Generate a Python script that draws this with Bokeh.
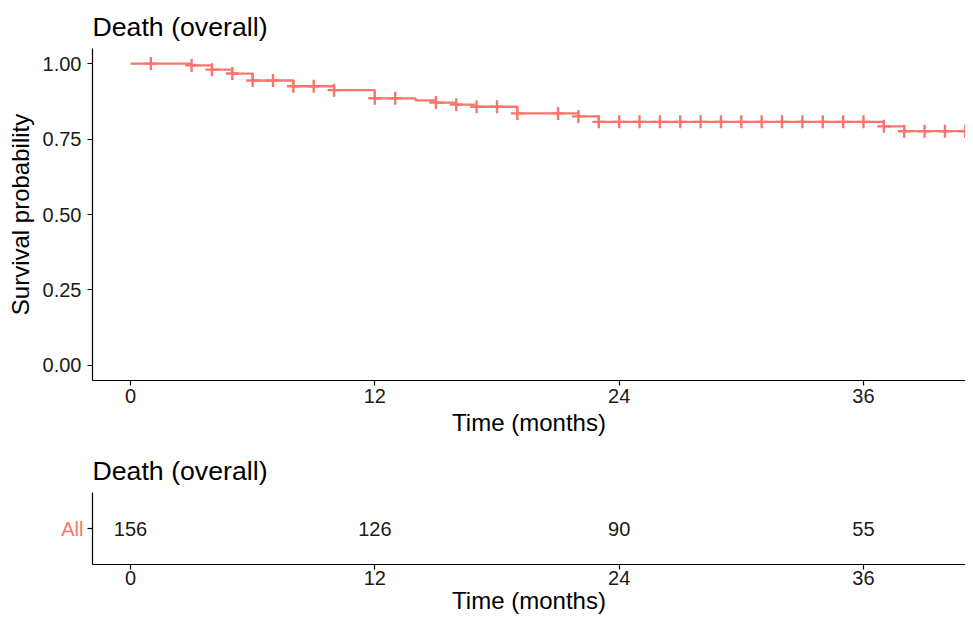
import numpy as np
from bokeh.plotting import figure
from bokeh.layouts import column
from bokeh.models import Range1d, FixedTicker, NumeralTickFormatter, FactorRange, ColumnDataSource
from bokeh.embed import file_html
from bokeh.resources import INLINE
from bokeh.core.properties import value

# ---- data ----
event_times = [3, 4, 5, 6, 8, 10, 12, 14, 15, 16, 17, 19, 22, 23, 37, 38]
surv_levels = [0.994, 0.980, 0.967, 0.944, 0.925, 0.912, 0.885, 0.878, 0.871,
               0.864, 0.857, 0.835, 0.825, 0.807, 0.792, 0.776]
censor_times = [1, 3, 4, 5, 6, 7, 8, 9, 10, 12, 13, 15, 16, 17, 18, 19, 21, 22, 23,
                24, 25, 26, 27, 28, 29, 30, 31, 32, 33, 34, 35, 36, 37, 38, 39, 40, 41]
curve_end = 42
risk_times = [0, 12, 24, 36]
risk_counts = ["156", "126", "90", "55"]
strata = ["All"]
x_ticks = [0, 12, 24, 36]
y_ticks = [0, 0.25, 0.5, 0.75, 1.0]

COL = "#F8766D"
FONT = "Liberation Sans"

def surv_at(t):
    s = 1.0
    for et, lv in zip(event_times, surv_levels):
        if et <= t:
            s = lv
    return s

step_x = [0] + event_times + [curve_end]
step_y = [1.0] + surv_levels + [surv_levels[-1]]
cens_y = [surv_at(t) for t in censor_times]

X0, X1 = -1.866, 41.01

def style_axes(p):
    for ax in (p.xaxis[0], p.yaxis[0]):
        ax.axis_line_color = "black"
        ax.axis_line_width = 1.2
        ax.major_tick_line_color = "black"
        ax.major_tick_line_width = 1.2
        ax.major_tick_out = 5
        ax.major_tick_in = 0
        ax.minor_tick_line_color = None
        ax.major_label_text_font = FONT
        ax.major_label_text_font_size = "20px"
        ax.major_label_text_color = "#1a1a1a"
        ax.axis_label_text_font = FONT
        ax.axis_label_text_font_size = "24px"
        ax.axis_label_text_font_style = "normal"
        ax.axis_label_text_color = "black"
    p.xgrid.grid_line_color = None
    p.ygrid.grid_line_color = None
    p.outline_line_color = None
    p.title.text_font = FONT
    p.title.text_font_size = "26.7px"
    p.title.text_font_style = "normal"
    p.title.text_color = "black"
    p.title.align = "left"

# ---- top: survival curve ----
p1 = figure(width=965, height=438, output_backend="svg", toolbar_location=None,
            x_range=Range1d(X0, X1), y_range=Range1d(-0.05, 1.05),
            title="Death (overall)", min_border_left=92, min_border_right=0,
            min_border_top=48, min_border_bottom=10)
p1.step(step_x, step_y, mode="after", line_color=COL, line_width=2.3)
p1.scatter(censor_times, cens_y, marker="cross", size=13, line_color=COL, line_width=2.4)
p1.xaxis.ticker = FixedTicker(ticks=x_ticks)
p1.yaxis.ticker = FixedTicker(ticks=y_ticks)
p1.yaxis.formatter = NumeralTickFormatter(format="0.00")
p1.xaxis.axis_label = "Time (months)"
p1.yaxis.axis_label = "Survival probability"
style_axes(p1)
p1.title.standoff = 14
p1.xaxis.axis_label_standoff = 3
p1.xaxis.major_label_standoff = 3
p1.yaxis.major_label_standoff = 6
p1.yaxis.axis_label_standoff = 6

# ---- bottom: risk table ----
p2 = figure(width=965, height=178, output_backend="svg", toolbar_location=None,
            x_range=Range1d(X0, X1), y_range=FactorRange(factors=strata, range_padding=0),
            title="Death (overall)", min_border_left=92, min_border_right=0,
            min_border_top=54, min_border_bottom=10)
src = ColumnDataSource(dict(x=risk_times, y=strata * len(risk_times), t=risk_counts))
p2.text(x="x", y="y", text="t", source=src, text_align="center", text_baseline="middle",
        text_font=value(FONT), text_font_size="20px", text_color="#1a1a1a")
p2.xaxis.ticker = FixedTicker(ticks=x_ticks)
p2.xaxis.axis_label = "Time (months)"
style_axes(p2)
p2.title.standoff = 13
p2.yaxis.major_label_text_color = COL
p2.xaxis.axis_label_standoff = -1
p2.xaxis.major_label_standoff = 1
p2.yaxis.major_label_standoff = 4

layout = column(p1, p2, spacing=0)
open("out.html", "w").write(file_html(layout, INLINE))
